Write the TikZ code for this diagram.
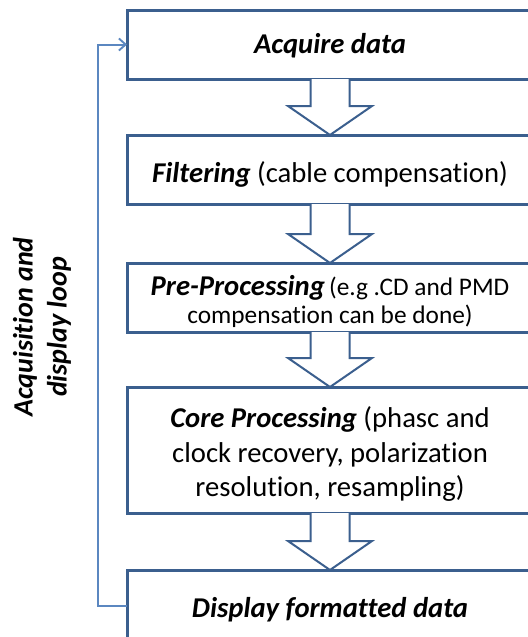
\documentclass[tikz,border=0pt]{standalone}
\usepackage{fontspec}
\setmainfont{Carlito}[Ligatures=NoCommon]
\usetikzlibrary{calc,arrows.meta}
\definecolor{boxblue}{HTML}{3B5F8E}
\definecolor{loopblue}{HTML}{5B87C0}
\tikzset{
  box/.style={draw=boxblue, line width=2.25pt, fill=white, outer sep=0pt, inner sep=0pt,
    minimum width=304.5pt},
  boxtext/.style={align=center, inner sep=0pt, font=\fontsize{21.5}{26}\selectfont},
  blockarrow/.style={draw=boxblue, line width=1.5pt, fill=white, line join=miter},
  looparrow/.style={draw=loopblue, line width=1.5pt, -{Straight Barb[length=5pt,width=9pt,line width=1.4pt]}},
  looplabel/.style={rotate=90, align=center, font=\fontsize{21}{25.5}\selectfont\bfseries\itshape}
}
\begin{document}
\begin{tikzpicture}[x=0.75pt,y=-0.75pt]
\useasboundingbox (0,0) rectangle (528,637);
\clip (0,0) rectangle (528,637);
\fill[white] (0,0) rectangle (528,637);

\node[box, minimum height=51.75pt] (b1) at (330,44.5) {};
\node[box, minimum height=51.75pt] (b2) at (330,169.5) {};
\node[box, minimum height=51.75pt] (b3) at (330,297.5) {};
\node[box, minimum height=94.5pt] (b4) at (330,450) {};
\node[box, minimum height=57pt] (b5) at (330,608) {};

\node[boxtext] (t1) at ($(b1.center)+(0,1)$) {\textbf{\textit{Acquire data}}};
\node[boxtext] (t2) at ($(b2.center)+(0,5)$) {\textbf{\textit{Filtering}} (cable compensation)};
\node[boxtext, font=\fontsize{19}{21}\selectfont] (t3) at ($(b3.center)+(0,4)$)
  {{\fontsize{21.5}{21}\selectfont\textbf{\textit{Pre-Processing}}}\,(e.g .CD and PMD\\compensation can be done)};
\node[boxtext] (t4) at ($(b4.center)+(0,4)$) {\textbf{\textit{Core Processing}} (phasc and\\clock recovery, polarization\\resolution, resampling)};
\node[boxtext] (t5) at ($(b5.center)+(0,2)$) {\textbf{\textit{Display formatted data}}};

\foreach \a/\b in {b1/b2, b2/b3, b3/b4, b4/b5}{
  \draw[blockarrow] ($(\a.south)+(-19.5,0)$) -- ($(\b.north)+(-19.5,-29)$) -- ($(\b.north)+(-42,-29)$)
    -- (\b.north) -- ($(\b.north)+(42,-29)$) -- ($(\b.north)+(19.5,-29)$) -- ($(\a.south)+(19.5,0)$);
}

\coordinate (lb) at ($(b5.west)+(-29,-2)$);
\draw[looparrow] ($(b5.west)+(0,-2)$) -- (lb) |- (b1.west);

\node[looplabel] (lbl) at (42,327) {Acquisition and\\display loop};
\end{tikzpicture}
\end{document}
